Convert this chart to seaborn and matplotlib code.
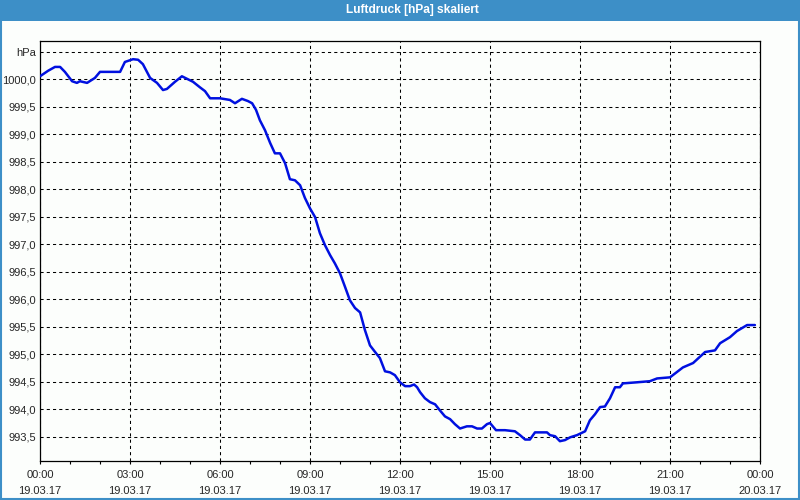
import matplotlib
matplotlib.use("Agg")
import matplotlib.pyplot as plt
import matplotlib.patches as mpatches
import seaborn as sns
import pandas as pd
import numpy as np

# ---- data (hours since 19.03.17 00:00, pressure in hPa) ----
hours = [0.00, 0.27, 0.50, 0.67, 0.83, 1.07, 1.23, 1.33, 1.57, 1.83, 2.00, 2.43, 2.67,
         2.83, 3.10, 3.27, 3.43, 3.67, 3.90, 4.10, 4.23, 4.50, 4.73, 5.10, 5.33, 5.50,
         5.67, 6.00, 6.33, 6.50, 6.73, 6.93, 7.07, 7.20, 7.33, 7.50, 7.67, 7.83, 8.00,
         8.17, 8.33, 8.50, 8.67, 8.83, 9.00, 9.17, 9.33, 9.50, 9.67, 9.83, 10.00, 10.17,
         10.33, 10.50, 10.67, 10.83, 11.00, 11.17, 11.33, 11.50, 11.67, 11.83, 12.00,
         12.17, 12.33, 12.47, 12.57, 12.67, 12.83, 13.00, 13.17, 13.33, 13.50, 13.67,
         13.83, 14.00, 14.23, 14.40, 14.57, 14.73, 14.90, 15.00, 15.20, 15.50, 15.83,
         16.00, 16.17, 16.33, 16.50, 16.90, 17.00, 17.17, 17.33, 17.50, 17.67, 17.90,
         18.17, 18.33, 18.50, 18.67, 18.83, 19.00, 19.17, 19.33, 19.43, 19.90, 20.33,
         20.57, 21.00, 21.43, 21.77, 22.17, 22.50, 22.67, 23.00, 23.23, 23.57, 23.83]
pressure = [1000.05, 1000.15, 1000.22, 1000.22, 1000.13, 999.96, 999.93, 999.96, 999.93,
            1000.02, 1000.13, 1000.13, 1000.13, 1000.31, 1000.36, 1000.35, 1000.27,
            1000.02, 999.93, 999.80, 999.82, 999.95, 1000.05, 999.95, 999.85, 999.78,
            999.65, 999.65, 999.62, 999.56, 999.64, 999.60, 999.56, 999.44, 999.25,
            999.07, 998.84, 998.65, 998.65, 998.47, 998.18, 998.16, 998.07, 997.84,
            997.65, 997.49, 997.20, 996.98, 996.80, 996.65, 996.47, 996.22, 995.98,
            995.84, 995.76, 995.44, 995.16, 995.04, 994.93, 994.69, 994.67, 994.62,
            994.49, 994.42, 994.42, 994.45, 994.40, 994.31, 994.20, 994.13, 994.09,
            993.98, 993.87, 993.82, 993.73, 993.65, 993.69, 993.69, 993.65, 993.65,
            993.73, 993.75, 993.62, 993.62, 993.60, 993.53, 993.45, 993.45, 993.58,
            993.58, 993.53, 993.51, 993.42, 993.44, 993.49, 993.53, 993.60, 993.80,
            993.91, 994.04, 994.05, 994.20, 994.40, 994.40, 994.47, 994.49, 994.51,
            994.56, 994.58, 994.76, 994.84, 995.04, 995.07, 995.20, 995.31, 995.42,
            995.53, 995.53]

x_tick_hours = [0, 3, 6, 9, 12, 15, 18, 21, 24]
x_tick_labels = ["00:00\n19.03.17", "03:00\n19.03.17", "06:00\n19.03.17",
                 "09:00\n19.03.17", "12:00\n19.03.17", "15:00\n19.03.17",
                 "18:00\n19.03.17", "21:00\n19.03.17", "00:00\n20.03.17"]
y_tick_values = [993.5, 994.0, 994.5, 995.0, 995.5, 996.0, 996.5, 997.0,
                 997.5, 998.0, 998.5, 999.0, 999.5, 1000.0, 1000.5]
y_unit = "hPa"
title = "Luftdruck [hPa] skaliert"

df = pd.DataFrame({"hours": hours, "pressure": pressure})

sns.set_style("white")
plt.rcParams["font.family"] = ["Liberation Sans", "DejaVu Sans"]

fig = plt.figure(figsize=(8, 5), dpi=100, facecolor="#fcfefc")
ax = fig.add_axes([40 / 800, 39 / 500, 720 / 800, 420.5 / 500])
ax.set_facecolor("#fcfefc")

sns.lineplot(data=df, x="hours", y="pressure", ax=ax, color="#0010e0",
             linewidth=1.8, zorder=3)

ax.set_xlim(0, 24)
ax.set_ylim(993.06, 1000.70)

ax.set_xticks(x_tick_hours)
ax.set_xticklabels(x_tick_labels, fontsize=8, linespacing=1.75)
ax.set_xticks(np.arange(0, 25, 1), minor=True)
ax.set_yticks(y_tick_values)
ylabels = [f"{v:.1f}".replace(".", ",") for v in y_tick_values]
ylabels[-1] = y_unit
ax.set_yticklabels(ylabels, fontsize=8)

ax.tick_params(axis="x", which="both", direction="out", length=2.5, width=0.8,
               color="black", pad=4, bottom=True)
ax.tick_params(axis="y", length=0, pad=3)

ax.grid(True, which="major", color="black", linestyle=(0, (3, 3)), linewidth=0.75)
for s in ax.spines.values():
    s.set_color("black")
    s.set_linewidth(0.9)
    s.set_visible(True)

ax.set_xlabel("")
ax.set_ylabel("")

# title bar
bar = mpatches.Rectangle((0, 479 / 500), 1, 21 / 500, transform=fig.transFigure,
                         facecolor="#3d8fc7", edgecolor="none", zorder=0)
fig.patches.append(bar)
fig.text(412 / 800, 489.5 / 500, title, color="white", fontsize=8.6, fontweight="bold",
         ha="center", va="center")
# window border
border = mpatches.Rectangle((0.001, 0.002), 0.998, 0.996, transform=fig.transFigure,
                            facecolor="none", edgecolor="#3d8fc7", linewidth=1.5)
fig.patches.append(border)

fig.savefig("out.png", dpi=100, facecolor=fig.get_facecolor())
